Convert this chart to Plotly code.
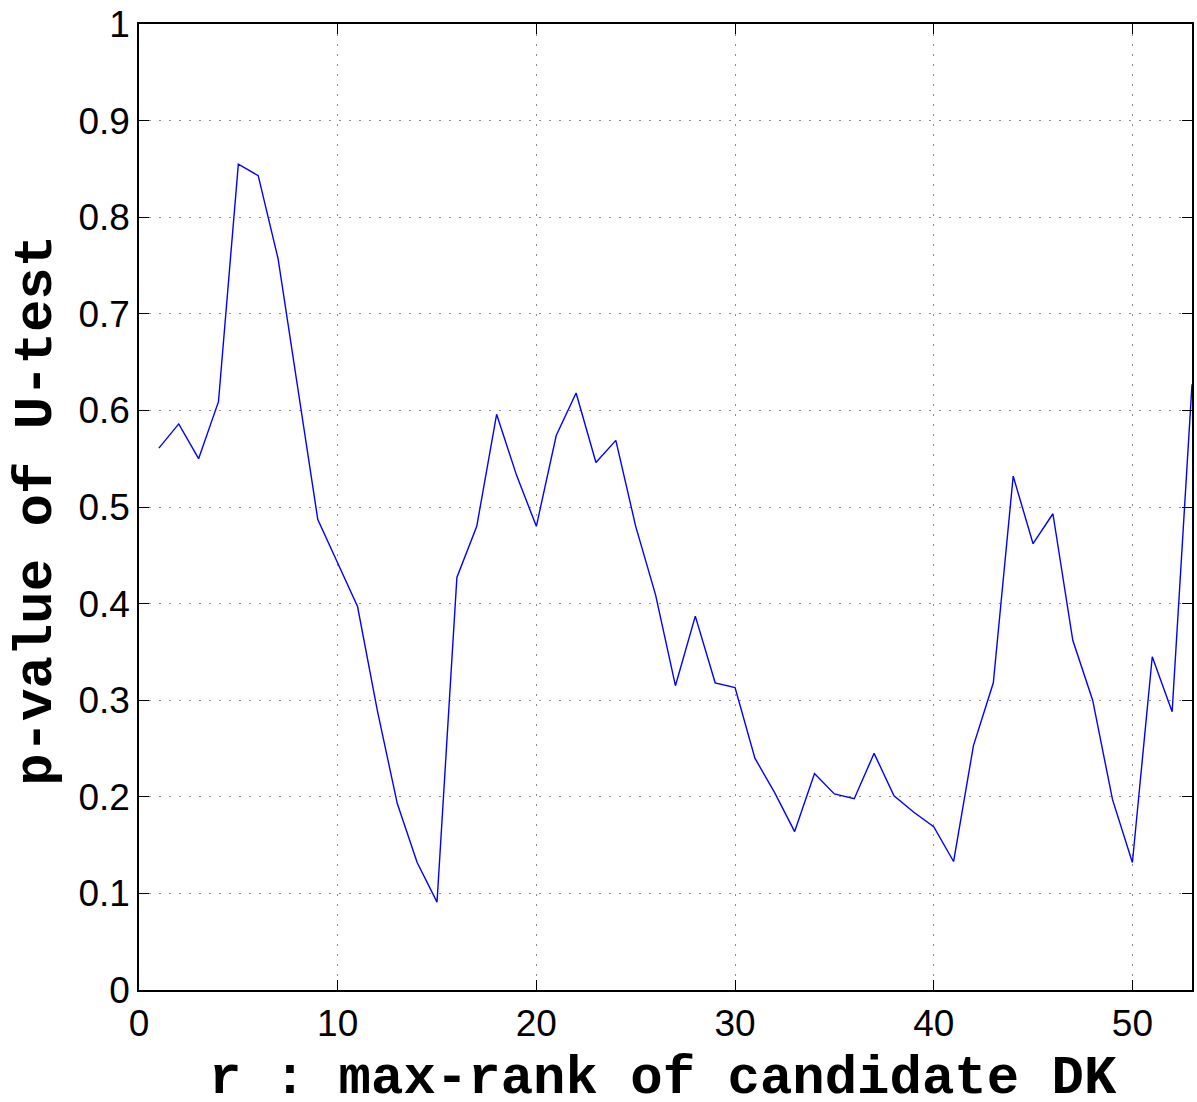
import plotly.graph_objects as go

r_values = list(range(1, 54))
p_values = [0.561, 0.586, 0.550, 0.609, 0.855, 0.843, 0.757, 0.620, 0.487, 0.442,
            0.397, 0.289, 0.193, 0.132, 0.091, 0.427, 0.480, 0.596, 0.533, 0.480,
            0.574, 0.618, 0.546, 0.569, 0.480, 0.409, 0.315, 0.387, 0.318, 0.313,
            0.240, 0.204, 0.164, 0.224, 0.203, 0.198, 0.245, 0.201, 0.184, 0.169,
            0.133, 0.253, 0.318, 0.532, 0.462, 0.493, 0.362, 0.300, 0.197, 0.132,
            0.345, 0.288, 0.627]

x_title = "r : max-rank of candidate DK"
y_title = "p-value of U-test"

fig = go.Figure()
fig.add_trace(go.Scatter(x=r_values, y=p_values, mode="lines", cliponaxis=False,
                         line=dict(color="#0000ff", width=1.4), showlegend=False))

axis_common = dict(
    automargin=False,
    showline=True, linecolor="black", linewidth=1.5, mirror="ticks",
    ticks="inside", ticklen=10, tickcolor="black", tickwidth=1,
    showgrid=True, gridcolor="#8c8c8c", griddash="1.5px,8.5px", gridwidth=1,
    zeroline=False,
    tickfont=dict(family="Liberation Sans, Arial, sans-serif", size=37, color="black"),
)

fig.update_xaxes(range=[0, 53], tick0=0, dtick=10, ticklabelstandoff=0, **axis_common)
fig.update_yaxes(range=[0, 1], tick0=0, dtick=0.1, tickformat="~g", ticklabelstandoff=0, **axis_common)

title_font = dict(family="Liberation Mono, Courier New, monospace", size=54, color="black")
fig.add_annotation(text="<b>" + x_title + "</b>", xref="paper", yref="paper",
                   x=0.498, y=-0.092, xanchor="center", yanchor="middle",
                   showarrow=False, font=title_font)
fig.add_annotation(text="<b>" + y_title + "</b>", xref="paper", yref="paper",
                   x=-0.097, y=0.497, xanchor="center", yanchor="middle", textangle=-90,
                   showarrow=False, font=title_font)

fig.update_layout(
    width=1197, height=1102,
    margin=dict(l=139, r=5, t=24, b=112, autoexpand=False),
    plot_bgcolor="white", paper_bgcolor="white",
)

fig.write_html("out.html", config={"displayModeBar": False},
               post_script="document.body.style.margin='0';document.body.style.overflow='hidden';")
